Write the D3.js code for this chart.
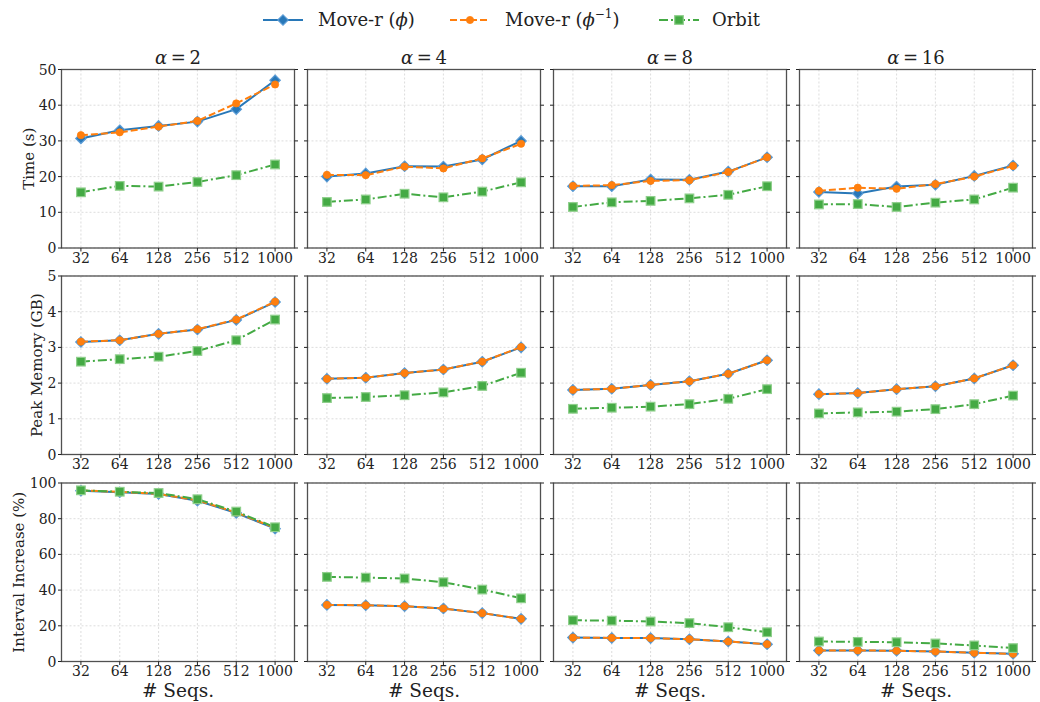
<!DOCTYPE html>
<html><head><meta charset="utf-8">
<script src="https://cdn.jsdelivr.net/npm/d3@7"></script>
<style>
html,body{margin:0;padding:0;background:#fff;}
svg{display:block;font-family:"DejaVu Serif",serif;}
</style></head>
<body><svg id="c" width="1040" height="702"></svg>
<script>
// ---------------- data ----------------
const categories = ["32", "64", "128", "256", "512", "1000"];
const alphas = ["2", "4", "8", "16"];
const seriesNames = ["Move-r (φ)", "Move-r (φ⁻¹)", "Orbit"];

// Time (s) per alpha panel
const timeMoveR = [
  [30.7, 33.0, 34.2, 35.4, 38.9, 47.0],
  [20.0, 20.9, 22.9, 22.8, 24.8, 30.0],
  [17.3, 17.3, 19.2, 19.1, 21.4, 25.4],
  [15.7, 15.3, 17.2, 17.7, 20.2, 23.1]
];
const timeMoveRInv = [
  [31.6, 32.4, 34.0, 35.6, 40.5, 45.8],
  [20.5, 20.4, 22.8, 22.3, 25.1, 29.2],
  [17.4, 17.6, 18.8, 19.0, 21.3, 25.4],
  [16.0, 16.9, 16.6, 17.9, 20.0, 23.0]
];
const timeOrbit = [
  [15.6, 17.4, 17.2, 18.5, 20.4, 23.4],
  [12.9, 13.6, 15.2, 14.2, 15.8, 18.4],
  [11.5, 12.8, 13.2, 13.9, 14.9, 17.3],
  [12.2, 12.3, 11.5, 12.7, 13.6, 16.9]
];
// Peak memory (GB)
const memMoveR = [
  [3.15, 3.20, 3.38, 3.50, 3.77, 4.27],
  [2.12, 2.15, 2.28, 2.38, 2.60, 3.00],
  [1.81, 1.84, 1.95, 2.05, 2.26, 2.64],
  [1.69, 1.72, 1.83, 1.91, 2.13, 2.50]
];
const memMoveRInv = [
  [3.16, 3.20, 3.38, 3.51, 3.78, 4.28],
  [2.12, 2.15, 2.28, 2.38, 2.60, 3.01],
  [1.81, 1.84, 1.95, 2.05, 2.26, 2.64],
  [1.69, 1.72, 1.83, 1.91, 2.13, 2.50]
];
const memOrbit = [
  [2.60, 2.67, 2.74, 2.90, 3.20, 3.78],
  [1.58, 1.61, 1.66, 1.74, 1.92, 2.29],
  [1.28, 1.31, 1.34, 1.41, 1.56, 1.83],
  [1.15, 1.18, 1.20, 1.27, 1.41, 1.65]
];
// Interval increase (%)
const incMoveR = [
  [95.7, 94.8, 93.8, 90.1, 83.2, 74.4],
  [31.7, 31.5, 31.0, 29.7, 27.1, 23.9],
  [13.4, 13.2, 13.1, 12.5, 11.2, 9.7],
  [6.2, 6.2, 6.0, 5.6, 4.9, 4.3]
];
const incMoveRInv = [
  [95.8, 95.0, 93.9, 90.3, 83.5, 74.8],
  [31.7, 31.5, 31.0, 29.7, 27.1, 23.9],
  [13.4, 13.2, 13.1, 12.5, 11.2, 9.7],
  [6.2, 6.2, 6.0, 5.6, 4.9, 4.3]
];
const incOrbit = [
  [95.9, 95.1, 94.4, 90.9, 84.0, 75.2],
  [47.4, 47.0, 46.5, 44.4, 40.3, 35.4],
  [23.1, 22.9, 22.4, 21.5, 19.2, 16.4],
  [11.2, 11.0, 10.8, 10.1, 9.0, 7.5]
];

const timeTicks = [0, 10, 20, 30, 40, 50];
const memTicks = [0, 1, 2, 3, 4, 5];
const incTicks = [0, 20, 40, 60, 80, 100];

const rowLabels = ["Time (s)", "Peak Memory (GB)", "Interval Increase (%)"];
const xLabel = "# Seqs.";

// ---------------- layout ----------------
const svg = d3.select("#c");
const colLeft = [61.5, 307.5, 553.5, 799.5];
const panelW = 233;
const rowTop = [69.5, 276, 483];
const panelH = 178.5;
const ylabelX = [34, 42, 24];

const colors = {blue: "#2878b8", orange: "#ff7f0e", green: "#44aa44"};

const rows = [
  {ticks: timeTicks, dom: [0, 50], s: [timeMoveR, timeMoveRInv, timeOrbit]},
  {ticks: memTicks, dom: [0, 5], s: [memMoveR, memMoveRInv, memOrbit]},
  {ticks: incTicks, dom: [0, 100], s: [incMoveR, incMoveRInv, incOrbit]}
];

const styles = [
  {color: colors.blue, dash: null, marker: "diamond"},
  {color: colors.orange, dash: "7,3", marker: "circle"},
  {color: colors.green, dash: "9,3,2,3", marker: "square"}
];

function drawMarker(g, type, x, y, color) {
  if (type === "diamond") {
    const r = 5.2;
    g.append("path").attr("d", `M${x},${y-r}L${x+r},${y}L${x},${y+r}L${x-r},${y}Z`)
      .attr("fill", color).attr("stroke", "#5a9bd5").attr("stroke-width", 1.2);
  } else if (type === "circle") {
    g.append("circle").attr("cx", x).attr("cy", y).attr("r", 3.6)
      .attr("fill", color).attr("stroke", color).attr("stroke-width", 0.8);
  } else {
    const h = 4.3;
    g.append("rect").attr("x", x-h).attr("y", y-h).attr("width", 2*h).attr("height", 2*h)
      .attr("fill", color).attr("stroke", "#8fcf8c").attr("stroke-width", 1.2);
  }
}

const spineColor = "#505050";

rows.forEach((row, ri) => {
  const top = rowTop[ri];
  const y = d3.scaleLinear().domain(row.dom).range([top + panelH, top]);
  alphas.forEach((a, ci) => {
    const left = colLeft[ci];
    const x = d3.scalePoint().domain(categories).range([left, left + panelW]).padding(0.5);
    const g = svg.append("g");
    // grid
    g.selectAll(".gy").data(row.ticks).enter().append("line")
      .attr("x1", left).attr("x2", left + panelW)
      .attr("y1", d => y(d)).attr("y2", d => y(d))
      .attr("stroke", "#d4d4d4").attr("stroke-width", 0.8).attr("stroke-dasharray", "2,2");
    g.selectAll(".gx").data(categories).enter().append("line")
      .attr("x1", d => x(d)).attr("x2", d => x(d))
      .attr("y1", top).attr("y2", top + panelH)
      .attr("stroke", "#d4d4d4").attr("stroke-width", 0.8).attr("stroke-dasharray", "2,2");
    // series
    row.s.forEach((arr, si) => {
      const vals = arr[ci];
      const st = styles[si];
      const line = d3.line().x((d, i) => x(categories[i])).y(d => y(d));
      g.append("path").attr("d", line(vals)).attr("fill", "none")
        .attr("stroke", st.color).attr("stroke-width", 2)
        .attr("stroke-dasharray", st.dash);
      vals.forEach((v, i) => drawMarker(g, st.marker, x(categories[i]), y(v), st.color));
    });
    // spines
    g.append("rect").attr("x", left).attr("y", top).attr("width", panelW).attr("height", panelH)
      .attr("fill", "none").attr("stroke", spineColor).attr("stroke-width", 1.3);
    // y ticks both sides
    row.ticks.forEach(t => {
      g.append("line").attr("x1", left - 3.5).attr("x2", left).attr("y1", y(t)).attr("y2", y(t))
        .attr("stroke", "#222").attr("stroke-width", 1);
      g.append("line").attr("x1", left + panelW).attr("x2", left + panelW + 3.5).attr("y1", y(t)).attr("y2", y(t))
        .attr("stroke", "#222").attr("stroke-width", 1);
    });
    // x ticks and labels
    categories.forEach(c => {
      g.append("line").attr("x1", x(c)).attr("x2", x(c)).attr("y1", top + panelH).attr("y2", top + panelH + 3.5)
        .attr("stroke", "#222").attr("stroke-width", 1);
      g.append("text").attr("x", x(c)).attr("y", top + panelH + 14.5)
        .attr("text-anchor", "middle").attr("font-size", 14).attr("fill", "#222").text(c);
    });
    // y tick labels (first column)
    if (ci === 0) {
      row.ticks.forEach(t => {
        g.append("text").attr("x", left - 5).attr("y", y(t) + 5)
          .attr("text-anchor", "end").attr("font-size", 14).attr("fill", "#222").text(t);
      });
      g.append("text").attr("transform", `translate(${ylabelX[ri]},${top + panelH / 2}) rotate(-90)`)
        .attr("text-anchor", "middle").attr("font-size", 15).attr("fill", "#222").text(rowLabels[ri]);
    }
    // titles
    if (ri === 0) {
      const t = g.append("text").attr("x", left + panelW / 2).attr("y", top - 6)
        .attr("text-anchor", "middle").attr("font-size", 18).attr("fill", "#222");
      t.append("tspan").attr("font-style", "italic").text("α");
      t.append("tspan").text("\u2009=\u2009" + a);
    }
    if (ri === 2) {
      g.append("text").attr("x", left + panelW / 2).attr("y", 697)
        .attr("text-anchor", "middle").attr("font-size", 18.5).attr("fill", "#222").text(xLabel);
    }
  });
});

// ---------------- legend ----------------
const leg = svg.append("g");
const legItems = [
  {x0: 263, tx: 318, st: styles[0]},
  {x0: 450, tx: 505, st: styles[1]},
  {x0: 659, tx: 712, st: styles[2]}
];
legItems.forEach((it, i) => {
  const yy = 20;
  leg.append("line").attr("x1", it.x0).attr("x2", it.x0 + 40).attr("y1", yy).attr("y2", yy)
    .attr("stroke", it.st.color).attr("stroke-width", 2).attr("stroke-dasharray", it.st.dash);
  drawMarker(leg, it.st.marker, it.x0 + 20, yy, it.st.color);
  const t = leg.append("text").attr("x", it.tx).attr("y", yy + 6).attr("font-size", 18).attr("fill", "#222");
  if (i === 0) {
    t.append("tspan").text("Move-r (");
    t.append("tspan").attr("font-style", "italic").text("ϕ");
    t.append("tspan").text(")");
  } else if (i === 1) {
    t.append("tspan").text("Move-r (");
    t.append("tspan").attr("font-style", "italic").text("ϕ");
    t.append("tspan").attr("font-size", 12).attr("dy", -8).text("−1");
    t.append("tspan").attr("dy", 8).text(")");
  } else {
    t.text("Orbit");
  }
});
</script>
</body></html>
